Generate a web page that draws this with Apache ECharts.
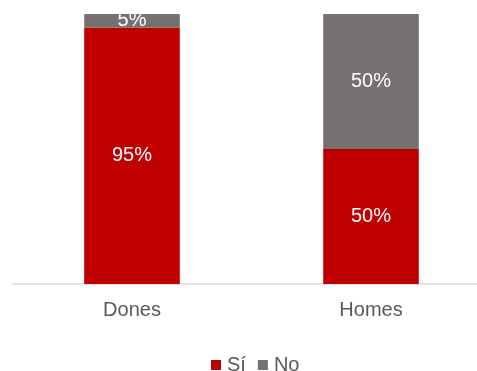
<!DOCTYPE html>
<html>
<head>
<meta charset="utf-8">
<script src="https://cdn.jsdelivr.net/npm/echarts@6/dist/echarts.min.js"></script>
<style>
html, body { margin: 0; padding: 0; background: #fff; }
#chart { width: 477px; height: 371px; }
</style>
</head>
<body>
<div id="chart"></div>
<script>
// Percentages by gender
const categories = ['Dones', 'Homes'];
const siValues = [95, 50];
const noValues = [5, 50];

const chart = echarts.init(document.getElementById('chart'), null, { renderer: 'canvas' });

const labelStyle = {
  show: true,
  position: 'inside',
  formatter: '{c}%',
  color: '#ffffff',
  fontFamily: 'Liberation Sans, Arial, sans-serif',
  fontSize: 20
};

chart.setOption({
  animation: false,
  textStyle: { fontFamily: 'Liberation Sans, Arial, sans-serif' },
  grid: {
    left: 12.5, width: 478, top: 14, height: 270,
    containLabel: false, outerBoundsMode: 'none'
  },
  legend: {
    top: 350,
    left: 206,
    itemWidth: 10,
    itemHeight: 10,
    itemGap: 12,
    icon: 'rect',
    textStyle: { color: '#595959', fontSize: 20, padding: [0, 0, 0, 1] },
    data: ['Sí', 'No']
  },
  xAxis: {
    type: 'category',
    data: categories,
    axisLine: { lineStyle: { color: '#d9d9d9', width: 1.5 } },
    axisTick: { show: false },
    axisLabel: { color: '#595959', fontSize: 20, margin: 16 }
  },
  yAxis: {
    type: 'value',
    min: 0,
    max: 100,
    show: false,
    splitLine: { show: false }
  },
  series: [
    {
      name: 'Sí',
      type: 'bar',
      stack: 'total',
      barWidth: '40%',
      data: siValues,
      itemStyle: { color: '#C00000' },
      label: labelStyle
    },
    {
      name: 'No',
      type: 'bar',
      stack: 'total',
      barWidth: '40%',
      data: noValues,
      itemStyle: { color: '#767171' },
      label: labelStyle
    }
  ]
});
</script>
</body>
</html>
